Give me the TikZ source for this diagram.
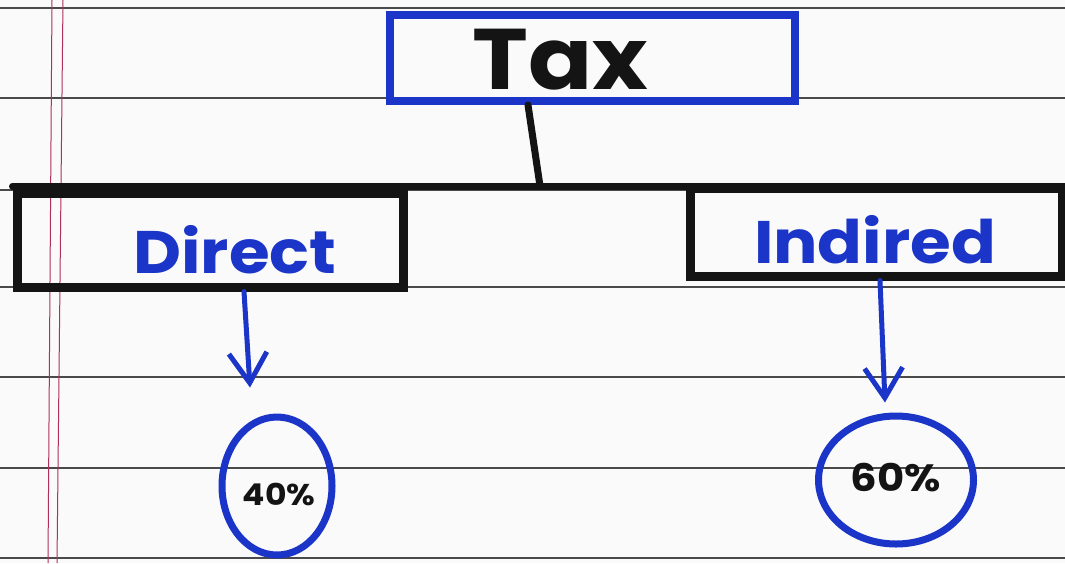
\documentclass[tikz,border=0pt]{standalone}
\usepackage{fontspec}
\newfontfamily\hand[FakeStretch=1.1]{Poppins}
\usetikzlibrary{shapes.geometric,arrows.meta,calc}
\definecolor{pen}{HTML}{1A35C8}
\definecolor{ink}{HTML}{141414}
\definecolor{rule}{HTML}{4A4A4A}
\definecolor{margin}{HTML}{B0305A}
\tikzset{
  bluebox/.style={draw=pen,line width=8pt,rectangle,inner sep=0pt,text=ink},
  blackbox/.style={draw=ink,line width=9pt,rectangle,inner sep=0pt,text=pen},
  pct/.style={draw=pen,line width=7pt,ellipse,inner sep=0pt,text=ink},
  penarrow/.style={draw=pen,line width=5pt,line cap=round,-{Straight Barb[length=30pt,width=38pt,line width=5pt]}},
  trunk/.style={draw=ink,line width=7pt,line cap=round,line join=round},
  paperline/.style={draw=rule,line width=1.8pt},
  marginline/.style={draw=margin,line width=1pt},
  lbl/.style={inner sep=0pt}
}
\begin{document}
\begin{tikzpicture}[x=1pt,y=-1pt]
\useasboundingbox (0,0) rectangle (1065,563);
\fill[white!96!gray] (0,0) rectangle (1065,563);
\foreach \yy in {8,98,190,287,377,468,558}
  \draw[paperline] (0,\yy) -- (1065,\yy);
\draw[marginline] (52,0) -- (48,563);
\draw[marginline] (63,0) -- (57,563);

\node[bluebox,minimum width=405pt,minimum height=86pt] (tax) at (592,58) {};
\node[lbl,text=ink,font=\hand\bfseries\fontsize{86}{86}\selectfont] (taxt) at (560,60) {Tax};
\node[blackbox,minimum width=386pt,minimum height=94pt] (direct) at (210,240) {};
\node[lbl,text=pen,font=\hand\bfseries\fontsize{60}{60}\selectfont] (directt) at (235,250) {Direct};
\node[blackbox,minimum width=372pt,minimum height=88pt] (indirect) at (876,232) {};
\node[lbl,text=pen,font=\hand\bfseries\fontsize{60}{60}\selectfont] (indirectt) at (875,240) {Indired};
\node[pct,minimum width=110pt,minimum height=138pt] (p40) at (277,486) {};
\node[lbl,text=ink,font=\hand\bfseries\fontsize{30}{30}\selectfont] (p40t) at (279,494) {40\%};
\node[pct,minimum width=155pt,minimum height=128pt] (p60) at (896,480) {};
\node[lbl,text=ink,font=\hand\bfseries\fontsize{38}{38}\selectfont] (p60t) at (896,478) {60\%};

\coordinate (j) at (540,186);
\draw[trunk] ($(tax.south)+(-64,0)$) -- (j);
\draw[trunk] (j) -- (j -| direct.west);
\draw[trunk] (j) -- (j -| indirect.east);

\draw[penarrow] ($(direct.south)+(34,0)$) -- ($(p40.north)+(-27,-26)$);
\draw[penarrow] ($(indirect.south)+(4,0)$) -- ($(p60.north)+(-11,-10)$);
\end{tikzpicture}
\end{document}
